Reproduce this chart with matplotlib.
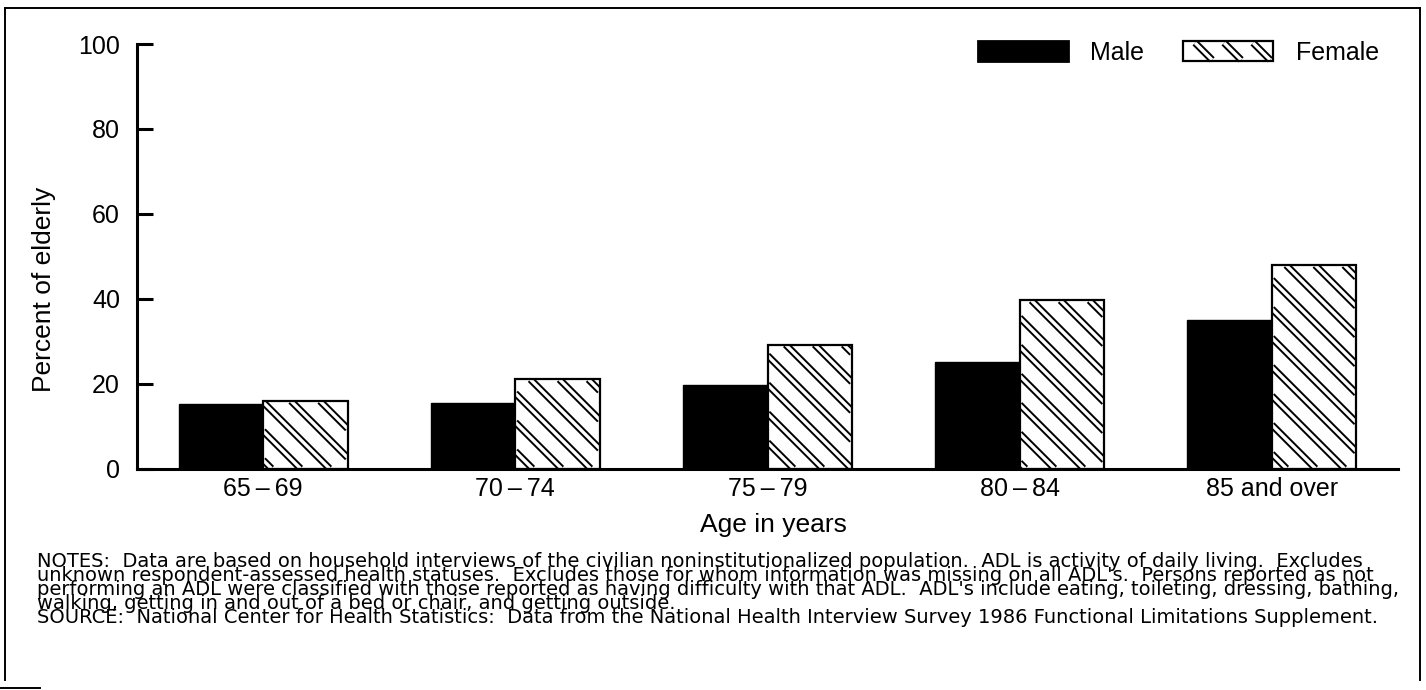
import math
import matplotlib.pyplot as plt
from matplotlib.patches import Patch, Rectangle
from matplotlib.legend_handler import HandlerPatch
from matplotlib.collections import LineCollection
from matplotlib.transforms import IdentityTransform
from matplotlib.lines import Line2D

plt.rcParams['font.family'] = ['Liberation Sans', 'DejaVu Sans']

# data (percent of elderly)
age_groups = ['65\u2009\u2013\u200969', '70\u2009\u2013\u200974', '75\u2009\u2013\u200979',
              '80\u2009\u2013\u200984', '85 and over']
male = [15.2, 15.4, 19.6, 25.0, 35.1]
female = [15.9, 21.0, 29.2, 39.6, 47.9]
y_ticks = [0, 20, 40, 60, 80, 100]

notes_lines = [
    'NOTES:  Data are based on household interviews of the civilian noninstitutionalized population.  ADL is activity of daily living.  Excludes',
    'unknown respondent-assessed health statuses.  Excludes those for whom information was missing on all ADL\'s.  Persons reported as not',
    'performing an ADL were classified with those reported as having difficulty with that ADL.  ADL\'s include eating, toileting, dressing, bathing,',
    'walking, getting in and out of a bed or chair, and getting outside.',
    'SOURCE:  National Center for Health Statistics:  Data from the National Health Interview Survey 1986 Functional Limitations Supplement.',
]


def diag_segments(x0, y0, x1, y1, step):
    # back-diagonal lines x + y = c inside a box, c on a fixed grid
    segs = []
    c = math.floor((x0 + y0) / step) * step
    while c <= x1 + y1:
        xa = max(x0, c - y1)
        xb = min(x1, c - y0)
        if xb > xa:
            segs.append([(xa, c - xa), (xb, c - xb)])
        c += step
    return segs


# the double-line hatch of the female bars: thick black line with a thin white one on top
HATCH_STEP_PX = 29
HATCH_BLACK = 2.6
HATCH_WHITE = 1.2


class DoubleHatchHandler(HandlerPatch):
    def create_artists(self, legend, orig_handle, xdescent, ydescent, width, height, fontsize, trans):
        x0, y0 = -xdescent, -ydescent
        inset = 0.5
        fill = Rectangle((x0, y0), width, height, facecolor='white', edgecolor='none', transform=trans)
        step = HATCH_STEP_PX * 72 / 200
        segs = diag_segments(x0 + inset, y0 + inset, x0 + width - inset, y0 + height - inset, step)
        black = LineCollection(segs, colors='black', linewidths=HATCH_BLACK, capstyle='butt', transform=trans)
        white = LineCollection(segs, colors='white', linewidths=HATCH_WHITE, capstyle='butt', transform=trans)
        edge = Rectangle((x0, y0), width, height, facecolor='none', edgecolor='black', linewidth=0.8, transform=trans)
        return [fill, black, white, edge]


W, H = 1426, 690
fig = plt.figure(figsize=(W / 200, H / 200), dpi=200)
ax = fig.add_axes([137 / W, 1 - 468.5 / H, 1261 / W, 424.5 / H])
ax.set_xlim(-0.5, 4.5)
ax.set_ylim(0, 100)

x = list(range(len(age_groups)))
w = 0.335
xm = [i - w / 2 for i in x]
xf = [i + w / 2 for i in x]

ax.bar(xm, male, width=w, color='black', edgecolor='black', linewidth=0.5)
female_bars = ax.bar(xf, female, width=w, facecolor='white', edgecolor='none', zorder=1)
ax.bar(xf, female, width=w, facecolor='none', edgecolor='black', linewidth=0.8, zorder=1.5)

for bar in female_bars:
    (px0, py0), (px1, py1) = ax.transData.transform(
        [(bar.get_x(), 0), (bar.get_x() + bar.get_width(), bar.get_height())])
    segs = diag_segments(px0, py0, px1, py1, HATCH_STEP_PX)
    for color, lw, z in [('black', HATCH_BLACK, 1.2), ('white', HATCH_WHITE, 1.3)]:
        lc = LineCollection(segs, colors=color, linewidths=lw, capstyle='butt',
                            transform=IdentityTransform(), zorder=z)
        ax.add_collection(lc, autolim=False)
        lc.set_clip_path(bar)   # after add_collection, which sets the axes clip

ax.set_yticks(y_ticks)
ax.set_xticks(x)
ax.set_xticklabels(age_groups)

for s in ['top', 'right']:
    ax.spines[s].set_visible(False)
for s in ['left', 'bottom']:
    ax.spines[s].set_linewidth(1.1)

ax.tick_params(axis='y', direction='in', length=5.8, width=1.1, pad=6.1, labelsize=9)
ax.tick_params(axis='x', length=0, pad=3.2, labelsize=9)

ax.set_ylabel('Percent of elderly', fontsize=9.5, va='center')
ax.yaxis.set_label_coords(-0.0737, 0.422)
ax.set_xlabel('Age in years', fontsize=9.5, va='top')
ax.xaxis.set_label_coords(0.505, -0.104)

male_handle = Patch(facecolor='black', edgecolor='black')
female_handle = Patch(facecolor='white', edgecolor='black')
ax.legend([male_handle, female_handle], ['Male', 'Female'],
          handler_map={female_handle: DoubleHatchHandler()},
          loc='upper left', bbox_to_anchor=(978 / W, 1 - 41 / H), bbox_transform=fig.transFigure,
          ncol=2, frameon=False, fontsize=9, borderpad=0, borderaxespad=0,
          handlelength=3.6, handleheight=0.84, handletextpad=0.9, columnspacing=1.55)

# notes and source in a wider face so the lines span the page like the scan;
# 'baseline' on multi-line text pins the last line
fig.text(37 / W, 1 - 623 / H, '\n'.join(notes_lines), fontsize=7.0, family=['DejaVu Sans'],
         va='baseline', ha='left', linespacing=0.67)

# page frame
frame = dict(color='black', linewidth=0.7, transform=fig.transFigure)
fig.add_artist(Line2D([5 / W, 5 / W], [1 - 8 / H, 1 - 680 / H], **frame))
fig.add_artist(Line2D([5 / W, 1420 / W], [1 - 8 / H, 1 - 8 / H], **frame))
fig.add_artist(Line2D([1420 / W, 1420 / W], [1 - 8 / H, 1 - 680 / H], **frame))
fig.add_artist(Line2D([0, 40 / W], [1 - 688 / H, 1 - 688 / H], **frame))

fig.savefig('out.png', dpi=200)
